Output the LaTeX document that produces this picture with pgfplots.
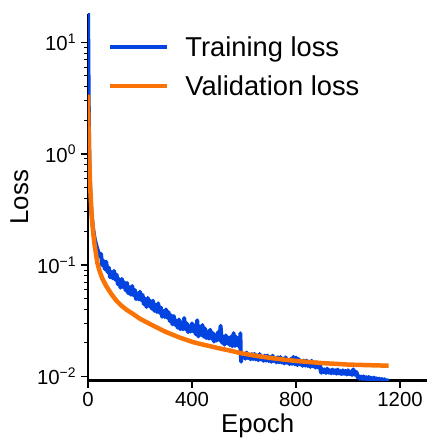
\documentclass[border=0pt]{standalone}
\usepackage{fontspec}
\setmainfont{Liberation Sans}
\usepackage{pgfplots}
\pgfplotsset{compat=1.18}
\definecolor{tblue}{HTML}{0343DF}
\definecolor{vorange}{HTML}{F97306}
% power-of-ten exponent set at a fixed size
\newcommand\pexp[1]{\raisebox{7.5bp}{\fontsize{14}{16}\selectfont #1}}

\begin{document}
\begin{tikzpicture}
\begin{axis}[
  scale only axis,
  width=340.7bp, height=368bp,
  ymode=log,
  xmin=0, xmax=1305,
  ymin=0.0092, ymax=18,
  axis x line*=bottom, axis y line*=left,
  axis line style={line width=2.4bp, black},
  tick align=outside,
  major tick length=7bp, minor tick length=3.5bp,
  every tick/.style={black, line width=1.6bp},
  every minor tick/.style={black, line width=1bp},
  xtick={0,400,800,1200},
  xticklabels={0,400,800,1200},
  ytick={0.01,0.1,1,10},
  yticklabels={10\pexp{−2},10\pexp{−1},10\pexp{0},10\pexp{1}},
  minor ytick={0.02,0.03,0.04,0.05,0.06,0.07,0.08,0.09,
               0.2,0.3,0.4,0.5,0.6,0.7,0.8,0.9,
               2,3,4,5,6,7,8,9},
  ticklabel style={font=\fontsize{20.5}{24}\selectfont},
  xticklabel shift=1bp,
  yticklabel shift=2bp,
  every axis x label/.style={at={(rel axis cs:0.5,0)}, yshift=-52bp, anchor=base,
    font=\fontsize{26}{31}\selectfont},
  every axis y label/.style={at={(rel axis cs:0,0.5)}, xshift=-68.8bp, rotate=90, anchor=center,
    font=\fontsize{26}{31}\selectfont},
  xlabel={Epoch}, ylabel={Loss},
  legend style={draw=none, fill=none, at={(rel axis cs:0.051,0.95)}, anchor=north west,
    font=\fontsize{27.5}{32}\selectfont, row sep=14bp},
  legend image code/.code={\draw[#1, line width=4bp] (0bp,0bp) -- (57bp,0bp); \path (71bp,0bp);},
  legend cell align=left,
]
% training loss: noisy, with step drops near epochs 588, 894 and 1035
\addplot[tblue, line width=4bp, line join=round] coordinates {
(0,30) (1,12) (2,5.5) (3,2.8) (4,1.6) (5,1.05) (6,0.78) (7,0.62) (8,0.52)
(10,0.40) (12,0.33) (14,0.285) (16,0.255) (18,0.23) (20,0.21) (23,0.19)
(26,0.172) (30,0.158) (33,0.148) (36,0.140) (40,0.131) (43,0.126) (46,0.120)
(50,0.1265) (55,0.0996) (60,0.1092) (65,0.092) (70,0.1075) (75,0.0870)
(80,0.0952) (85,0.0779) (90,0.0865) (95,0.0763) (100,0.0888) (105,0.0741)
(110,0.0821) (115,0.0673) (120,0.0749) (125,0.0627) (130,0.0752) (135,0.0635)
(140,0.0700) (145,0.0593) (150,0.0693) (155,0.0560) (160,0.0630) (165,0.0543)
(170,0.0650) (175,0.0536) (180,0.0599) (185,0.0495) (190,0.0556) (195,0.0493)
(200,0.0577) (205,0.0485) (210,0.0540) (215,0.0446) (220,0.0499) (225,0.0421)
(230,0.0507) (235,0.0430) (240,0.0477) (245,0.0407) (250,0.0479) (255,0.0389)
(260,0.0441) (265,0.0380) (270,0.0454) (275,0.0374) (280,0.0417) (285,0.0344)
(290,0.0386) (295,0.0342) (300,0.0400) (305,0.0337) (310,0.0378) (315,0.0314)
(320,0.0354) (325,0.0294) (330,0.0349) (335,0.0291) (340,0.0318) (345,0.0274)
(350,0.0325) (355,0.0266) (360,0.0305) (365,0.0265) (370,0.0335) (375,0.0266)
(380,0.0300) (385,0.0250) (390,0.0283) (395,0.0253) (400,0.0300) (405,0.0254)
(410,0.0286) (415,0.0239) (420,0.0320) (425,0.0229) (430,0.0278) (435,0.0237)
(440,0.0290) (445,0.0228) (450,0.0270) (455,0.0221) (460,0.0252) (465,0.0219)
(470,0.0263) (475,0.0219) (480,0.0246) (485,0.0206) (490,0.0235) (495,0.0210)
(500,0.0250) (505,0.0213) (510,0.0285) (515,0.0201) (520,0.0229) (525,0.0193)
(530,0.0234) (535,0.0199) (540,0.0223) (545,0.0192) (550,0.0228) (555,0.0187)
(560,0.0245) (565,0.0188) (570,0.0227) (575,0.0190) (580,0.0215) (585,0.0180)
(586,0.0245) (588,0.0150) (589,0.0136)
(590,0.0160) (595,0.01470) (600,0.01589) (605,0.01446) (610,0.01640) (615,0.01468)
(620,0.01554) (625,0.01428) (630,0.01590) (635,0.01434) (640,0.01595) (645,0.01425)
(650,0.01540) (655,0.01401) (660,0.01589) (665,0.01422) (670,0.01506) (675,0.01383)
(680,0.01539) (685,0.01388) (690,0.01544) (695,0.01379) (700,0.01490) (705,0.01355)
(710,0.01538) (715,0.01376) (720,0.01457) (725,0.01338) (730,0.01489) (735,0.01342)
(740,0.01494) (745,0.01334) (750,0.01441) (755,0.01310) (760,0.01486) (765,0.01330)
(770,0.01408) (775,0.01293) (780,0.01439) (785,0.01297) (790,0.01500) (795,0.01288)
(800,0.01480) (805,0.01265) (810,0.01435) (815,0.01284) (820,0.01359) (825,0.01247)
(830,0.01388) (835,0.01251) (840,0.01392) (845,0.01243) (850,0.01342) (855,0.01220)
(860,0.01384) (865,0.01237) (870,0.01310) (875,0.01202) (880,0.01338) (885,0.01206)
(890,0.01316) (893,0.0126) (895,0.0112) (897,0.0108)
(900,0.01173) (905,0.01092) (910,0.01158) (915,0.01076) (920,0.01175) (925,0.01083)
(930,0.01137) (935,0.01068) (940,0.01154) (945,0.01075) (950,0.01139) (955,0.01059)
(960,0.01156) (965,0.01066) (970,0.01119) (975,0.01050) (980,0.01136) (985,0.01057)
(990,0.01121) (995,0.01042) (1000,0.01137) (1005,0.01049) (1010,0.01101) (1015,0.01033)
(1020,0.01160) (1025,0.01040) (1030,0.01102) (1034,0.0107) (1037,0.0098)
(1040,0.01015) (1045,0.00953) (1050,0.00999) (1055,0.00947) (1060,0.01002) (1065,0.00951)
(1070,0.00986) (1075,0.00935) (1080,0.00990) (1085,0.00929) (1090,0.00974) (1095,0.00923)
(1100,0.00977) (1105,0.00927) (1110,0.00962) (1115,0.00912) (1120,0.00956) (1125,0.00906)
(1130,0.00950) (1135,0.00909) (1140,0.00944) (1145,0.00904) (1150,0.00928) (1156,0.0091)
};
\addlegendentry{Training loss}
% validation loss: smooth
\addplot[vorange, line width=4.5bp, line join=round] coordinates {
(0,3.4) (2,1.8) (4,1.1) (6,0.75) (8,0.55) (10,0.43) (13,0.32) (16,0.25)
(20,0.195) (25,0.155) (30,0.13) (36,0.105) (45,0.088) (55,0.076) (70,0.065)
(90,0.055) (109,0.048) (130,0.043) (150,0.0395) (173,0.0365) (200,0.0330)
(236,0.0298) (270,0.0272) (300,0.0251) (350,0.0225) (400,0.0205) (428,0.0197)
(466,0.0188) (500,0.0180) (550,0.0170) (594,0.0161) (650,0.0153) (700,0.0147)
(750,0.0142) (800,0.0138) (849,0.0135) (900,0.0132) (950,0.0130) (1000,0.0128)
(1050,0.0127) (1100,0.0126) (1156,0.0125)
};
\addlegendentry{Validation loss}
\end{axis}
\path[use as bounding box] (-88.3bp,-59bp) rectangle (341.7bp,382bp);
\end{tikzpicture}
\end{document}
